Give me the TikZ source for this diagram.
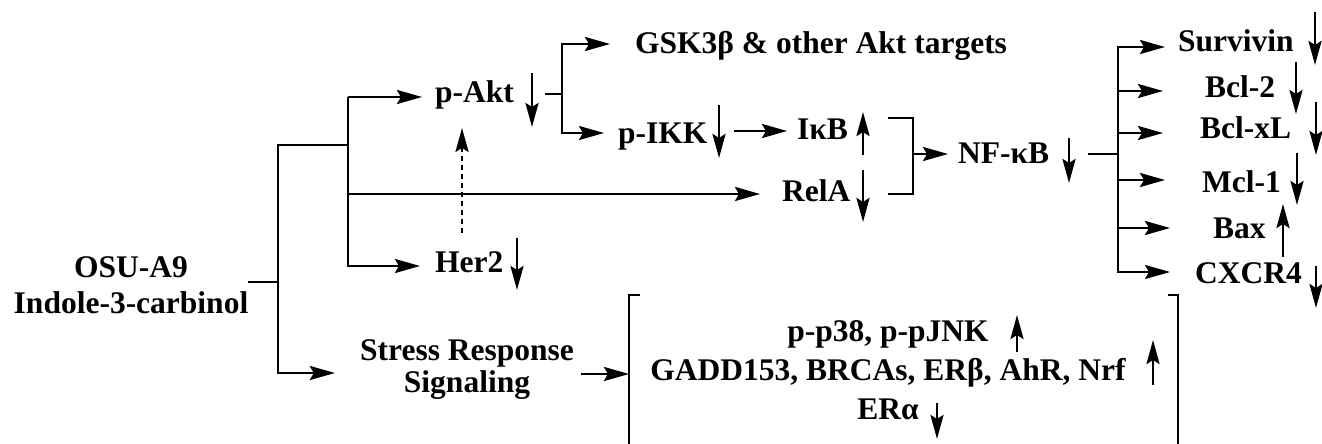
\documentclass[tikz,border=0pt]{standalone}
\usepackage{fontspec}
\setmainfont{Liberation Serif}
\usetikzlibrary{arrows.meta}
\newcommand\lblfont[1]{\fontsize{31.5}{#1}\selectfont\bfseries}
\begin{document}
\begin{tikzpicture}[x=1pt,y=-1pt,
  lbl/.style={inner sep=0pt, font=\lblfont{36}},
  ln/.style={line width=2.9pt},
  arr/.style={ln, -{Stealth[length=25pt,width=14pt,inset=4pt]}},
  ind/.style={line width=2.8pt, -{Stealth[length=24pt,width=13pt,inset=4pt]}},
  dasharr/.style={ind, dash pattern=on 5pt off 4pt}]
\useasboundingbox (0,0) rectangle (1322,444);
% ---------- text nodes ----------
\node[lbl, align=center, anchor=north] (osu) at (131,256) {OSU-A9\\Indole-3-carbinol};
\node[lbl, anchor=base west] (pakt) at (435,102) {p-Akt};
\node[lbl, anchor=base west] (gsk) at (635,53) {GSK3β \& other Akt targets};
\node[lbl, anchor=base west] (pikk) at (618,143) {p-IKK};
\node[lbl, anchor=base west] (ikb) at (797,139) {IκB};
\node[lbl, anchor=base west] (rela) at (782,201) {RelA};
\node[lbl, anchor=base west] (nfkb) at (958,163) {NF-κB};
\node[lbl, anchor=base west] (her2) at (435,272) {Her2};
\node[lbl, anchor=base west] (surv) at (1178,52) {Survivin};
\node[lbl, anchor=base west] (bcl2) at (1205,97) {Bcl-2};
\node[lbl, anchor=base west] (bclxl) at (1200,138) {Bcl-xL};
\node[lbl, anchor=base west] (mcl1) at (1202,192) {Mcl-1};
\node[lbl, anchor=base west] (bax) at (1213,238) {Bax};
\node[lbl, anchor=base west] (cxcr4) at (1195,283) {CXCR4};
\node[lbl, font=\lblfont{32}, align=center, anchor=north] (stress) at (467,339.5) {Stress Response\\Signaling};
\node[lbl, font=\lblfont{39}, align=center, anchor=north] (effects) at (888,320.5) {p-p38, p-pJNK\\GADD153, BRCAs, ERβ, AhR, Nrf\\ERα};
% ---------- junction coordinates ----------
\coordinate (j0) at (278,282);
\coordinate (a1) at (278,145);
\coordinate (a2) at (278,373);
\coordinate (b0) at (348,145);
\coordinate (b1) at (348,97);
\coordinate (b2) at (348,194);
\coordinate (b3) at (348,266);
\coordinate (c0) at (545,94);
\coordinate (c1) at (562,94);
\coordinate (c2) at (562,44);
\coordinate (c3) at (562,133);
\coordinate (d0) at (734,131);
\coordinate (e1) at (888,118);
\coordinate (e2) at (913,118);
\coordinate (e3) at (913,194);
\coordinate (e4) at (888,194);
\coordinate (e5) at (913,154);
\coordinate (f0) at (1088,154);
\coordinate (g0) at (1118,154);
\coordinate (gt) at (1118,47);
\coordinate (g2) at (1118,91);
\coordinate (g3) at (1118,133);
\coordinate (g4) at (1118,180);
\coordinate (g5) at (1118,228);
\coordinate (gb) at (1118,272);
\coordinate (sy) at (629,374);
\coordinate (hx) at (462,0);
% ---------- connectors ----------
\draw[ln] (j0 -| osu.east) -- (j0);
\draw[arr, shorten >=25pt] (b0) -- (a1) -- (a2) -- (a2 -| stress.west);
\draw[arr, shorten >=15pt] (b1) -- (b3) -- (b3 -| her2.west);
\draw[arr, shorten >=13pt] (b1) -- (b1 -| pakt.west);
\draw[arr, shorten >=22pt] (b2) -- (b2 -| rela.west);
\draw[dasharr, shorten <=18pt, shorten >=19pt] (her2.north -| hx) -- (pakt.south -| hx);
\draw[ln] (c0) -- (c1);
\draw[arr, shorten >=25pt] (c3) -- (c2) -- (c2 -| gsk.west);
\draw[arr, shorten >=14pt] (c2) -- (c3) -- (c3 -| pikk.west);
\draw[arr, shorten >=10pt] (d0) -- (d0 -| ikb.west);
\draw[ln] (e1) -- (e2) -- (e3) -- (e4);
\draw[arr, shorten >=10pt] (e5) -- (e5 -| nfkb.west);
\draw[ln] (f0) -- (g0);
\draw[arr, shorten >=13pt] (gb) -- (gt) -- (gt -| surv.west);
\draw[arr, shorten >=25pt] (gt) -- (gb) -- (gb -| cxcr4.west);
\draw[arr, shorten >=42pt] (g2) -- (g2 -| bcl2.west);
\draw[arr, shorten >=37pt] (g3) -- (g3 -| bclxl.west);
\draw[arr, shorten >=37pt] (g4) -- (g4 -| mcl1.west);
\draw[arr, shorten >=43pt] (g5) -- (g5 -| bax.west);
\draw[arr, shorten <=7pt] (sy -| stress.east) -- (sy);
% ---------- bracket around stress effects ----------
\draw[ln] (640,295) -- (629,295) -- (629,444);
\draw[ln] (1168,295) -- (1178,295) -- (1178,444);
% ---------- up / down indicators ----------
\draw[ind] (532,73) -- (532,127);
\draw[ind] (719,105) -- (719,158);
\draw[ind] (863,155) -- (863,112);
\draw[ind] (863,170) -- (863,222);
\draw[ind] (1069,138) -- (1069,183);
\draw[ind] (517,238) -- (517,290);
\draw[ind] (1315,12) -- (1315,65);
\draw[ind] (1296,62) -- (1296,114);
\draw[ind] (1316,102) -- (1316,155);
\draw[ind] (1297,153) -- (1297,205);
\draw[ind] (1283,257) -- (1283,204);
\draw[ind] (1316,266) -- (1316,308);
\draw[ind] (1017,352) -- (1017,315);
\draw[ind] (1153,385) -- (1153,340);
\draw[ind] (937,403) -- (937,439);
\end{tikzpicture}
\end{document}
